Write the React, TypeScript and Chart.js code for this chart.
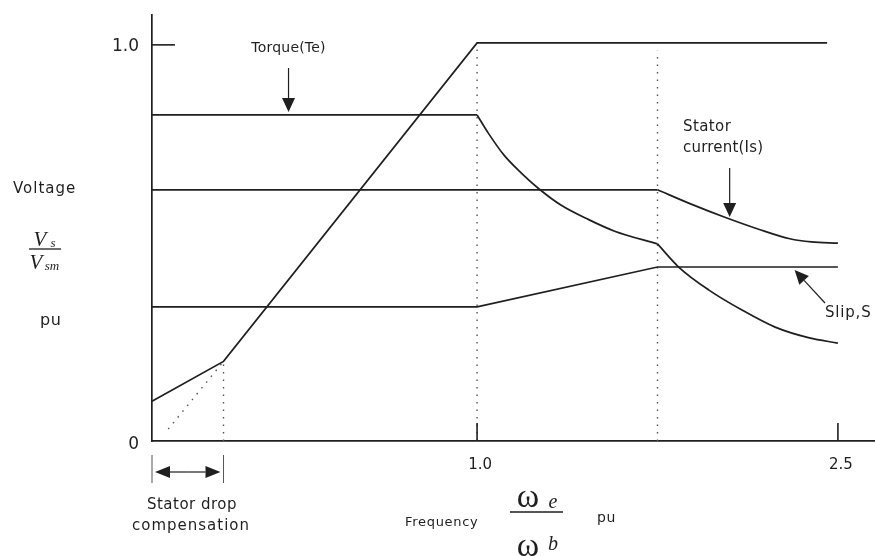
import React, { useEffect, useRef } from "react";
import { Chart, registerables } from "chart.js";

Chart.register(...registerables);

// ---- axis (schematic: the field-weakening region above base speed is compressed) ----
const HIGH_SPEED_AXIS_SCALE = 0.74;
const posOf = (f: number) => (f <= 1 ? f : 1 + (f - 1) * HIGH_SPEED_AXIS_SCALE);

const xTickValues = [1.0, 2.5];
const xTickLabels = ["1.0", "2.5"];
const yTickValues = [0, 1.0];
const yTickLabels = ["0", "1.0"];
const X_MAX_FREQ = 2.65;
const Y_MAX = 1.07;

// ---- data (frequency pu -> value pu) ----
const voltageFreq = [0, 0.22, 1.0, 2.455];
const voltageVals = [0.1, 0.2, 1.0, 1.0];
const voltageExtFreq = [0.05, 0.22];
const voltageExtVals = [0.03, 0.2];

const torqueFreq = [0, 1.0, 1.046, 1.112, 1.184, 1.258, 1.35, 1.464, 1.572, 1.75, 1.838, 1.964, 2.101, 2.239, 2.381, 2.5];
const torqueVals = [0.819, 0.819, 0.774, 0.718, 0.673, 0.633, 0.592, 0.556, 0.527, 0.495, 0.437, 0.379, 0.329, 0.286, 0.259, 0.246];

const currentFreq = [0, 1.75, 1.89, 2.03, 2.17, 2.3, 2.39, 2.5];
const currentVals = [0.631, 0.631, 0.595, 0.562, 0.532, 0.508, 0.5, 0.497];

const slipFreq = [0, 1.0, 1.75, 2.5];
const slipVals = [0.337, 0.337, 0.437, 0.437];

// corner frequencies (base speed, end of constant-power region)
const cornerFreq = [1.0, 1.75];

const guideFreq = [0.22, 1.0, 1.75];
const guideTop = [0.2, 1.0, 0.98];

const compensationFreq = [0, 0.22];

// annotation anchor frequencies
const torqueArrowFreq = 0.42;
const currentArrowFreq = 2.05;
const slipArrowFreq = 2.32;

const INK = "#1f1f1f";
const SANS = '"DejaVu Sans", sans-serif';
const SERIF = '"Liberation Serif", "DejaVu Serif", serif';

const toPoints = (fs: number[], vs: number[]) => fs.map((f, i) => ({ x: posOf(f), y: vs[i] }));

// split a curve at its corner frequencies so each smooth piece keeps sharp corners
function pieces(fs: number[], vs: number[]) {
  const out: { x: number; y: number }[][] = [];
  let cur: { x: number; y: number }[] = [];
  fs.forEach((f, i) => {
    const p = { x: posOf(f), y: vs[i] };
    cur.push(p);
    if (cornerFreq.includes(f) && i > 0 && i < fs.length - 1) {
      out.push(cur);
      cur = [p];
    }
  });
  out.push(cur);
  return out;
}

function interp(fs: number[], vs: number[], f: number) {
  for (let i = 1; i < fs.length; i++) {
    if (f <= fs[i]) {
      const t = (f - fs[i - 1]) / (fs[i] - fs[i - 1]);
      return vs[i - 1] + t * (vs[i] - vs[i - 1]);
    }
  }
  return vs[vs.length - 1];
}

function txt(ctx: any, s: string, x: number, y: number, font: string, align: string = "left", ls = "0px") {
  ctx.font = font;
  ctx.textAlign = align;
  ctx.textBaseline = "middle";
  ctx.letterSpacing = ls;
  ctx.fillText(s, x, y);
  ctx.letterSpacing = "0px";
}

function line(ctx: any, x1: number, y1: number, x2: number, y2: number) {
  ctx.beginPath();
  ctx.moveTo(x1, y1);
  ctx.lineTo(x2, y2);
  ctx.stroke();
}

function arrow(ctx: any, x1: number, y1: number, x2: number, y2: number, len = 14, half = 6.5) {
  const a = Math.atan2(y2 - y1, x2 - x1);
  const bx = x2 - len * Math.cos(a);
  const by = y2 - len * Math.sin(a);
  line(ctx, x1, y1, bx, by);
  ctx.beginPath();
  ctx.moveTo(x2, y2);
  ctx.lineTo(bx + half * Math.sin(a), by - half * Math.cos(a));
  ctx.lineTo(bx - half * Math.sin(a), by + half * Math.cos(a));
  ctx.closePath();
  ctx.fill();
}

const annotations = {
  id: "annotations",
  afterDraw(chart: any) {
    const { ctx } = chart;
    const x = chart.scales.x;
    const y = chart.scales.y;
    const px = (f: number) => x.getPixelForValue(posOf(f));
    const py = (v: number) => y.getPixelForValue(v);
    ctx.save();
    ctx.strokeStyle = INK;
    ctx.fillStyle = INK;

    // inward tick marks
    ctx.lineWidth = 1.6;
    yTickValues.forEach((v) => {
      if (v > 0) line(ctx, x.left, py(v) + 2, x.left + 23, py(v) + 2);
    });
    xTickValues.forEach((f) => line(ctx, px(f), y.bottom, px(f), y.bottom - 18));

    // Torque label + arrow
    txt(ctx, "Torque(Te)", px(torqueArrowFreq), 48, `14px ${SANS}`, "center", "0.2px");
    ctx.lineWidth = 1.2;
    arrow(ctx, px(torqueArrowFreq), 68, px(torqueArrowFreq), py(interp(torqueFreq, torqueVals, torqueArrowFreq)) - 3);

    // Stator current label + arrow
    txt(ctx, "Stator", 683, 127, `15px ${SANS}`, "left", "0.4px");
    txt(ctx, "current(Is)", 683, 148, `15px ${SANS}`, "left", "0.2px");
    arrow(ctx, px(currentArrowFreq), 168, px(currentArrowFreq), py(interp(currentFreq, currentVals, currentArrowFreq)) - 2);

    // Slip label + arrow
    txt(ctx, "Slip,S", 825, 313, `15px ${SANS}`, "left", "0.8px");
    arrow(ctx, 825, 303, px(slipArrowFreq), py(interp(slipFreq, slipVals, slipArrowFreq)) + 3);

    // left axis title
    txt(ctx, "Voltage", 13, 189, `15px ${SANS}`, "left", "1px");
    txt(ctx, "V", 40, 240, `italic 21px ${SERIF}`, "center");
    txt(ctx, "s", 53, 244, `italic 13px ${SERIF}`, "center");
    ctx.lineWidth = 1.3;
    line(ctx, 29, 249, 61, 249);
    txt(ctx, "V", 36, 263, `italic 21px ${SERIF}`, "center");
    txt(ctx, "sm", 52, 267, `italic 13px ${SERIF}`, "center");
    txt(ctx, "pu", 40, 321, `16px ${SANS}`, "left", "0.5px");

    // stator drop compensation marker
    const c0 = px(compensationFreq[0]);
    const c1 = px(compensationFreq[1]);
    ctx.strokeStyle = "#555";
    ctx.lineWidth = 1;
    line(ctx, c0, y.bottom + 14, c0, y.bottom + 42);
    line(ctx, c1, y.bottom + 14, c1, y.bottom + 42);
    ctx.strokeStyle = INK;
    ctx.lineWidth = 1.2;
    const cm = (c0 + c1) / 2;
    arrow(ctx, cm, y.bottom + 31, c0 + 3, y.bottom + 31, 15, 6);
    arrow(ctx, cm, y.bottom + 31, c1 - 3, y.bottom + 31, 15, 6);
    txt(ctx, "Stator drop", 192, 505, `15px ${SANS}`, "center", "0.5px");
    txt(ctx, "compensation", 191, 526, `15px ${SANS}`, "center", "1px");

    // bottom axis title
    txt(ctx, "Frequency", 405, 523, `13px ${SANS}`, "left", "0.7px");
    txt(ctx, "ω", 528, 498, `34px ${SERIF}`, "center");
    txt(ctx, "e", 553, 503, `italic 20px ${SERIF}`, "center");
    ctx.lineWidth = 1.3;
    line(ctx, 510, 512, 563, 512);
    txt(ctx, "ω", 528, 547, `34px ${SERIF}`, "center");
    txt(ctx, "b", 553, 545, `italic 20px ${SERIF}`, "center");
    txt(ctx, "pu", 597, 518, `14px ${SANS}`, "left", "0.5px");

    ctx.restore();
  },
};

export default function App() {
  const ref = useRef<HTMLCanvasElement | null>(null);

  useEffect(() => {
    if (!ref.current) return;
    const solid = { borderColor: INK, borderWidth: 1.7, pointRadius: 0, fill: false };
    const smooth = { ...solid, cubicInterpolationMode: "monotone" };
    const straight = { ...solid, tension: 0 };
    const dotted = { borderColor: "#555", borderWidth: 1.4, borderDash: [1.5, 6], pointRadius: 0, tension: 0, fill: false };

    const datasets: any[] = [
      { label: "Voltage Vs/Vsm", data: toPoints(voltageFreq, voltageVals), ...straight },
      { label: "Voltage (no compensation)", data: toPoints(voltageExtFreq, voltageExtVals), ...dotted },
      ...pieces(torqueFreq, torqueVals).map((d) => ({ label: "Torque(Te)", data: d, ...smooth })),
      ...pieces(currentFreq, currentVals).map((d) => ({ label: "Stator current(Is)", data: d, ...smooth })),
      { label: "Slip,S", data: toPoints(slipFreq, slipVals), ...straight },
      ...guideFreq.map((f, i) => ({
        label: `guide ${f}`,
        data: toPoints([f, f], [0, guideTop[i]]),
        ...dotted,
      })),
    ];

    const noPad = (s: any) => {
      s.paddingTop = 0;
      s.paddingBottom = 0;
      s.paddingLeft = 0;
      s.paddingRight = 0;
    };

    const chart = new Chart(ref.current, {
      type: "line",
      data: { datasets },
      options: {
        animation: false,
        responsive: false,
        devicePixelRatio: 1,
        layout: { padding: { top: 15, right: 1, left: 0, bottom: 0 } },
        plugins: { legend: { display: false }, tooltip: { enabled: false } },
        scales: {
          x: {
            type: "linear",
            min: 0,
            max: posOf(X_MAX_FREQ),
            grid: { display: false, drawTicks: false },
            border: { display: true, color: INK, width: 1.7 },
            afterBuildTicks: (s: any) => {
              s.ticks = xTickValues.map((f) => ({ value: posOf(f) }));
            },
            afterFit: (s: any) => {
              s.height = 115;
              noPad(s);
            },
            ticks: {
              autoSkip: false,
              maxRotation: 0,
              padding: 15,
              labelOffset: 3,
              color: INK,
              font: { family: SANS, size: 15 },
              callback: (_v: any, i: number) => xTickLabels[i],
            },
          },
          y: {
            type: "linear",
            min: 0,
            max: Y_MAX,
            grid: { display: false, drawTicks: false },
            border: { display: true, color: INK, width: 1.7 },
            afterBuildTicks: (s: any) => {
              s.ticks = yTickValues.map((v) => ({ value: v }));
            },
            afterFit: (s: any) => {
              s.width = 152;
              noPad(s);
            },
            ticks: {
              autoSkip: false,
              padding: 13,
              labelOffset: 4,
              color: INK,
              font: { family: SANS, size: 17 },
              callback: (_v: any, i: number) => yTickLabels[i],
            },
          },
        },
      },
      plugins: [annotations],
    } as any);

    return () => chart.destroy();
  }, []);

  return (
    <div style={{ position: "absolute", left: 0, top: 0, width: 875, height: 556, background: "#fff" }}>
      <canvas ref={ref} width={875} height={556} />
    </div>
  );
}
